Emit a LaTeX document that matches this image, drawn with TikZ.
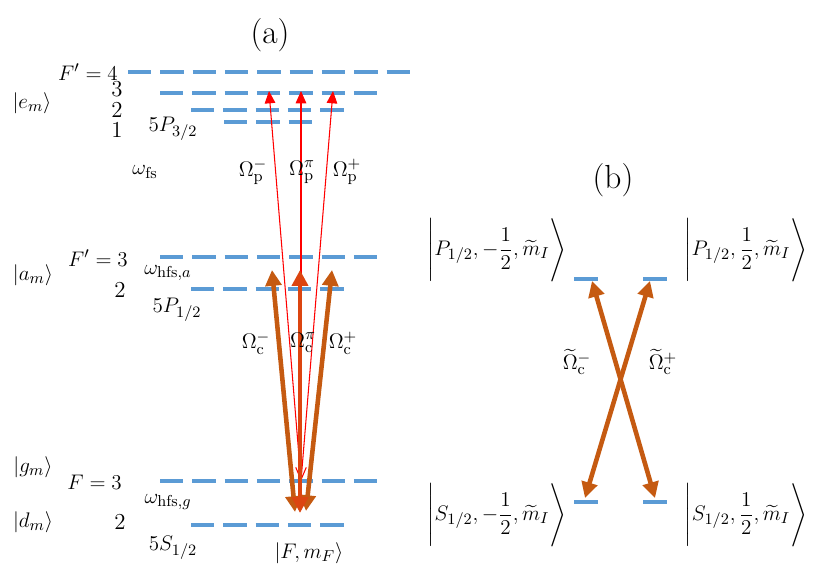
\documentclass[tikz,border=0pt]{standalone}
\usepackage{amsmath}
\usetikzlibrary{arrows.meta,positioning}
\definecolor{lev}{HTML}{5B9BD5}
\definecolor{rust}{HTML}{C55A11}
\definecolor{rustpi}{HTML}{DC4510}
\definecolor{probe}{HTML}{FF0000}
\newcommand{\level}[4]{\coordinate (#1l) at (#2,#4);\coordinate (#1r) at (#3,#4);\draw[lvl] (#1l)--(#1r);}
\newcommand{\sublevel}[4]{\coordinate (#1l) at (#2,#4);\coordinate (#1r) at (#3,#4);\draw[sub] (#1l)--(#1r);}
\newcommand{\hket}[2]{\Biggl|#1,#2\dfrac{1}{2},\widetilde{m}_I\Biggr\rangle}

\begin{document}
\begin{tikzpicture}[x=0.02cm,y=-0.02cm,font=\fontsize{13}{16}\selectfont,
lvl/.style={lev,line width=2.3pt,dash pattern=on 13.3pt off 5.1pt},
sub/.style={lev,line width=2.3pt},
prb/.style={probe,line width=0.6pt,-{Triangle[length=7pt,width=6pt]}},
cpl/.style={rust,line width=2.6pt,{Triangle[length=9pt,width=9pt]}-{Triangle[length=9pt,width=9pt]}},
big/.style={font=\fontsize{19}{22}\selectfont},
ketlbl/.style={font=\fontsize{12.3}{15}\selectfont,inner sep=1pt}]
\useasboundingbox (0,0) rectangle (838,575);
\node[big] (ta) at (270,35) {(a)};\node[big] (tb) at (613,180) {(b)};
\level{e4}{128}{411}{72}\level{e3}{160}{378}{93}\level{e2}{191}{345}{110}\level{e1}{224}{313}{122}
\level{a3}{160}{378}{257}\level{a2}{191}{345}{289}
\level{g3}{160}{378}{481}\level{g2}{191}{345}{525}
\node (kem) at (32,103) {$|e_m\rangle$};\node[anchor=east] (F4) at (124,72) {$F'=4$};
\node (n3) at (117,89) {3};\node (n2) at (117,110) {2};\node (n1) at (117,130) {1};
\node (p32) at (173,129) {$5P_{3/2}$};\node (wfs) at (145,172) {$\omega_{\mathrm{fs}}$};
\node (kam) at (33,275) {$|a_m\rangle$};\node[anchor=east] (F3a) at (134,258) {$F'=3$};
\node (m2) at (120,290) {2};\node (wa) at (168,273) {$\omega_{\mathrm{hfs},a}$};\node (p12) at (177,310) {$5P_{1/2}$};
\node (kgm) at (33,467) {$|g_m\rangle$};\node[anchor=east] (F3g) at (128,482) {$F=3$};
\node (wg) at (168,502) {$\omega_{\mathrm{hfs},g}$};\node (kdm) at (33,522) {$|d_m\rangle$};\node (g2n) at (120,522) {2};
\node (s12) at (173,548) {$5S_{1/2}$};\node (kF) at (309,553) {$|F,m_F\rangle$};
\coordinate (po) at (301,481);\coordinate (pm) at (269,91);\coordinate (pp) at (301,91);\coordinate (pq) at (333,91);
\draw[prb] (po)--(pm);\draw[prb] (po)--(pq);\draw[prb,{Straight Barb[length=7pt,width=6pt]}-{Triangle[length=7pt,width=6pt]}] (po)--(pp);
\coordinate (cmlo) at (295,512);\coordinate (cmhi) at (272,270);\coordinate (cplo) at (306,511);\coordinate (cphi) at (332,270);
\coordinate (czlo) at (300,513);\coordinate (czhi) at (300,270);
\draw[cpl] (cmlo)--(cmhi);\draw[cpl] (cplo)--(cphi);\draw[cpl,rustpi] (czlo)--(czhi);
\node (opm) at (253,172) {$\Omega_{\mathrm{p}}^{-}$};\node (opz) at (302,172) {$\Omega_{\mathrm{p}}^{\pi}$};\node (opp) at (347,172) {$\Omega_{\mathrm{p}}^{+}$};
\node (ocm) at (256,343) {$\Omega_{\mathrm{c}}^{-}$};\node (ocz) at (303,343) {$\Omega_{\mathrm{c}}^{\pi}$};\node (ocp) at (343,343) {$\Omega_{\mathrm{c}}^{+}$};
\sublevel{bp1}{574}{598}{279}\sublevel{bp2}{643}{667}{279}\sublevel{bs1}{574}{598}{502}\sublevel{bs2}{643}{667}{502}
\node[ketlbl] (kp1) at (497,250) {$\hket{P_{1/2}}{-}$};\node[ketlbl] (kp2) at (746,250) {$\hket{P_{1/2}}{}$};
\node[ketlbl] (ks1) at (497,515) {$\hket{S_{1/2}}{-}$};\node[ketlbl] (ks2) at (746,515) {$\hket{S_{1/2}}{}$};
\coordinate (xa) at (585,498);\coordinate (xb) at (650,281);\coordinate (xc) at (655,498);\coordinate (xd) at (592,281);
\draw[cpl] (xa)--(xb);\draw[cpl] (xc)--(xd);
\node (wcm) at (577,362) {$\widetilde{\Omega}_{\mathrm{c}}^{-}$};\node (wcp) at (663,362) {$\widetilde{\Omega}_{\mathrm{c}}^{+}$};
\end{tikzpicture}
\end{document}
